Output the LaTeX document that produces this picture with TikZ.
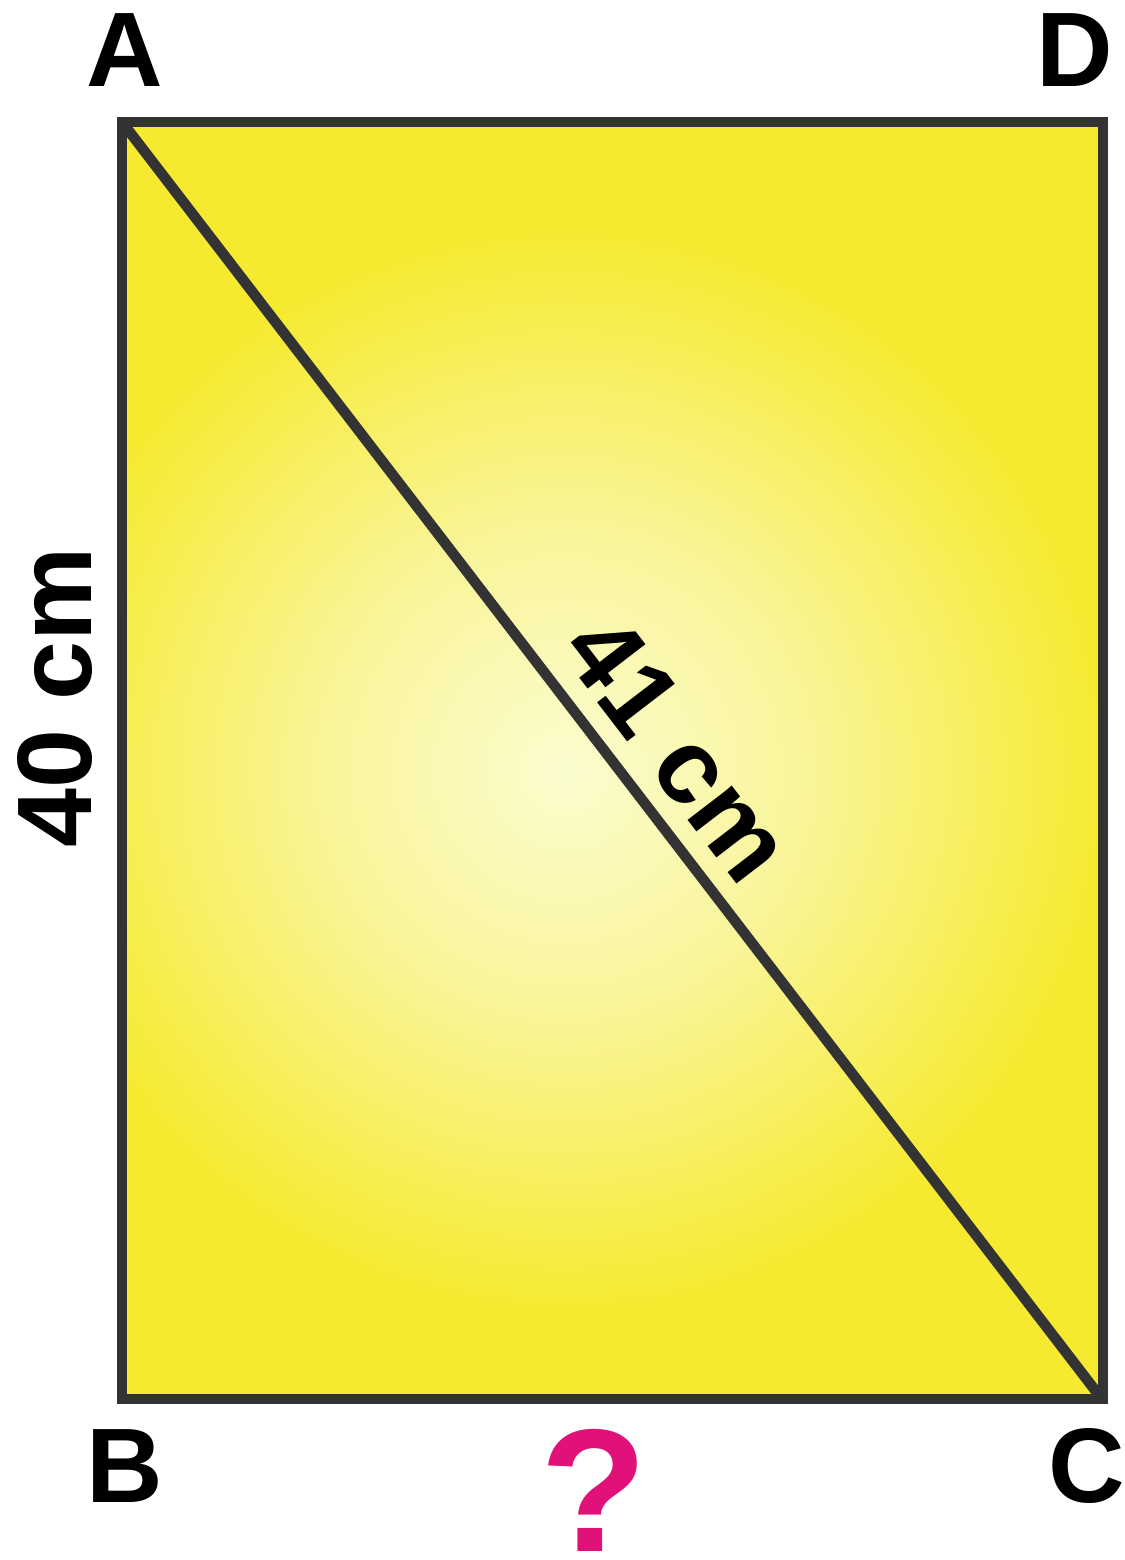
\documentclass[tikz,border=0pt]{standalone}
\usepackage{fontspec}
\setmainfont{Liberation Sans}
\definecolor{edgecol}{HTML}{333333}
\definecolor{yin}{HTML}{FBFCCF}
\definecolor{ymid}{HTML}{F9F59A}
\definecolor{yout}{HTML}{F6EA30}
\definecolor{qmag}{HTML}{E0127A}
\pgfdeclareradialshading{yrad}{\pgfpoint{0bp}{0bp}}{color(0bp)=(yin); color(11bp)=(ymid); color(25bp)=(yout); color(50bp)=(yout)}
\begin{document}
\begin{tikzpicture}[x=1pt,y=-1pt,
  lbl/.style={font=\fontsize{106}{120}\selectfont\bfseries, inner sep=0pt},
  edge/.style={draw=edgecol, line width=10pt, line join=miter}]
\useasboundingbox (0,0) rectangle (1124,1560);
\coordinate (A) at (122,122);
\coordinate (D) at (1103,122);
\coordinate (C) at (1103,1399);
\coordinate (B) at (122,1399);
\coordinate (G) at (565,770);
\fill[yout] (A) rectangle (C);
\begin{scope}
\clip (A) rectangle (C);
\shade[shading=yrad] (G) circle[radius=540];
\end{scope}
\draw[edge] (A) -- (D) -- (C) -- (B) -- cycle;
\draw[edge, line width=10.5pt] (A) -- (1098,1394) coordinate (Cd);
\node[lbl] (la) at (125,50) {A};
\node[lbl] (ld) at (1075,50) {D};
\node[lbl] (lb) at (125,1466) {B};
\node[lbl] (lc) at (1087,1466) {C};
\node[lbl, font=\fontsize{175}{190}\selectfont\bfseries, text=qmag] (lq) at (594,1490) {?};
\node[lbl, rotate=90] (l40) at (55,697) {40 cm};
\node[lbl, rotate=-52.5] (l41) at (678,748) {41 cm};
\end{tikzpicture}
\end{document}
